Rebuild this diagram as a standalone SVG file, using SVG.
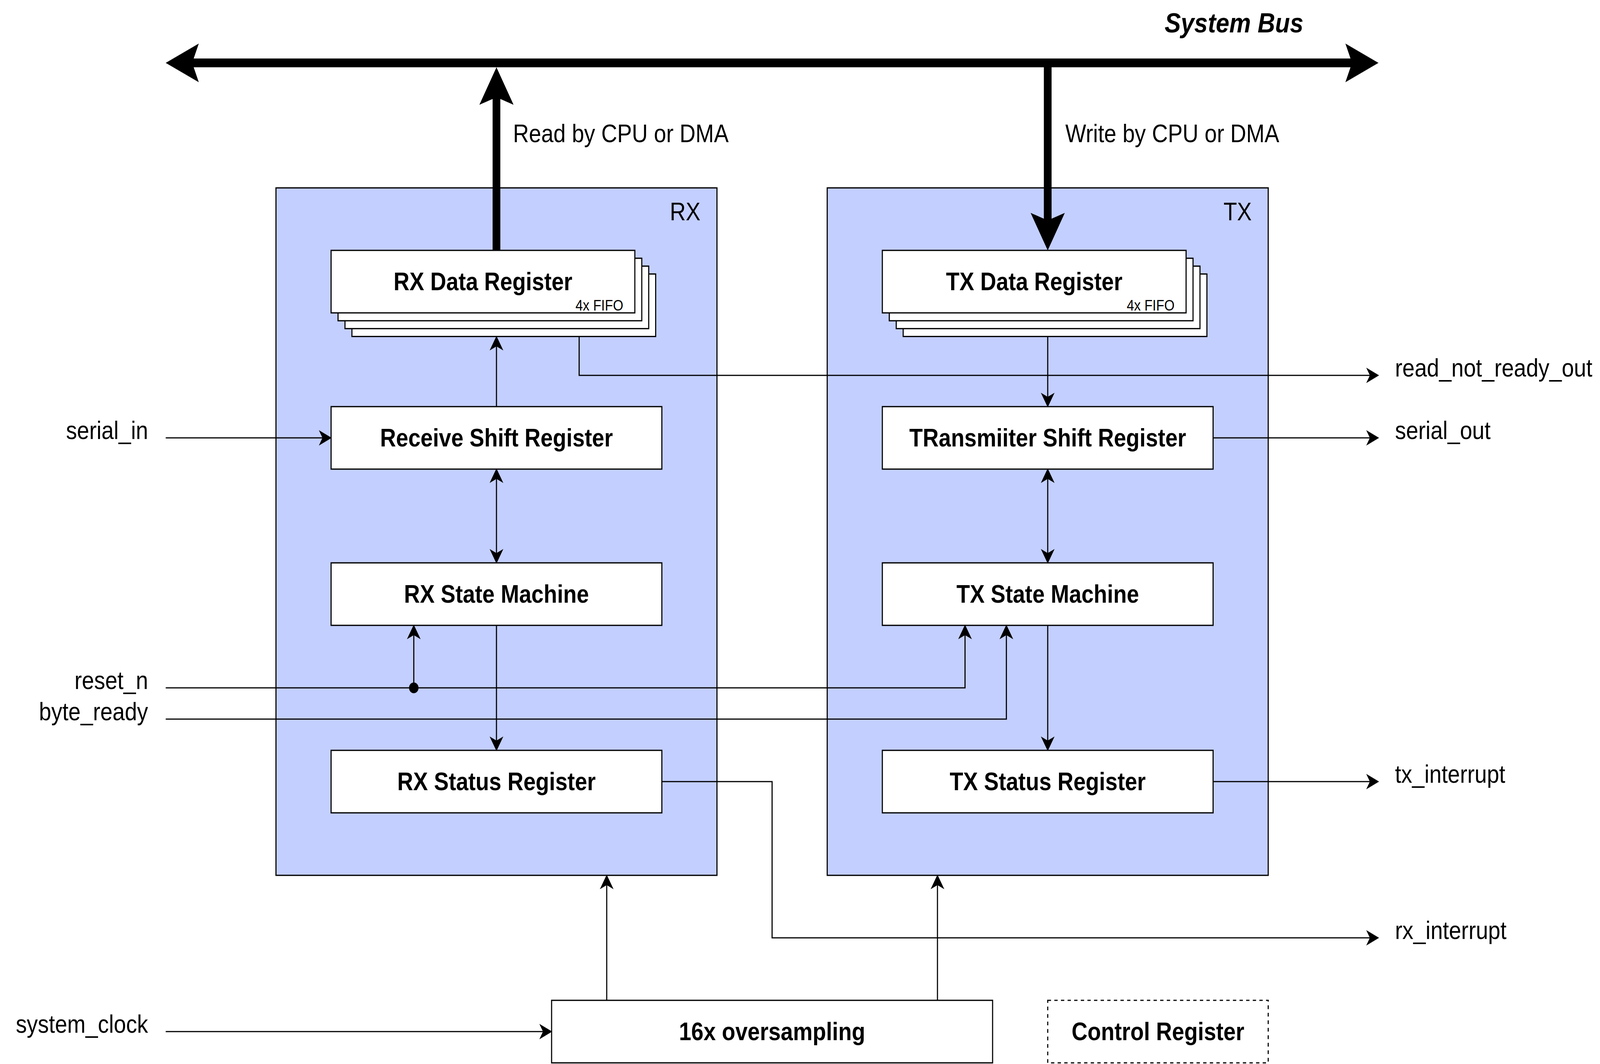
<svg xmlns="http://www.w3.org/2000/svg" width="4644" height="2724" viewBox="0 0 4644 2724" preserveAspectRatio="none">
  <defs>
    <style>
      svg:root { width: 100vw; height: 100vh; display: block; }
      .cont { fill: #C3CFFF; stroke: #000; stroke-width: 1; }
      .box { fill: #FFFFFF; stroke: #000; stroke-width: 1; }
      .dash { fill: #FFFFFF; stroke: #000; stroke-width: 1; stroke-dasharray: 3 3; }
      .t { font-family: "Liberation Sans", Arial, Helvetica, sans-serif; font-size: 20px; fill: #000; }
      .b { font-weight: bold; text-anchor: middle; }
      .small { font-family: "Liberation Sans", Arial, Helvetica, sans-serif; font-size: 12px; fill: #000; text-anchor: end; }
      .thin { fill: none; stroke: #000; stroke-width: 1; }
      .thick { fill: none; stroke: #000; stroke-width: 7; }
    </style>
    <marker id="arr" markerUnits="userSpaceOnUse" orient="auto-start-reverse" markerWidth="12" markerHeight="12" refX="0" refY="0" viewBox="-3.5 -6 12 12" overflow="visible">
      <path d="M7.5,0 L-3,-5.6 L0,0 L-3,5.6 Z" fill="#000" stroke="#000" stroke-width="0.5" stroke-linejoin="miter"/>
    </marker>
    <marker id="big" markerUnits="userSpaceOnUse" orient="auto-start-reverse" markerWidth="32" markerHeight="32" refX="0" refY="0" viewBox="-7 -16 32 32" overflow="visible">
      <path d="M24,0 L-6,-15.5 L0,0 L-6,15.5 Z" fill="#000"/>
    </marker>
  </defs>
  <rect x="0" y="0" width="4644" height="2724" fill="#FFFFFF"/>
  <g transform="translate(1,1) scale(3.2)">
    <g id="rx-block">
      <rect class="cont" x="250" y="150" width="400" height="550"/>
      <text class="t" x="635" y="176" text-anchor="end">RX</text>
    </g>
    <g id="tx-block">
      <rect class="cont" x="750" y="150" width="400" height="550"/>
      <text class="t" x="1135" y="176" text-anchor="end">TX</text>
    </g>
    <g id="rx-data-register">
      <rect class="box" x="318.9" y="218.9" width="275.5" height="50"/>
      <rect class="box" x="312.6" y="212.6" width="275.5" height="50"/>
      <rect class="box" x="306.3" y="206.3" width="275.5" height="50"/>
      <rect class="box" x="300" y="200" width="275.5" height="50"/>
      <text class="t b" x="437.75" y="232">RX Data Register</text>
      <text class="small" x="565" y="248">4x FIFO</text>
    </g>
    <g id="tx-data-register">
      <rect class="box" x="818.9" y="218.9" width="275.5" height="50"/>
      <rect class="box" x="812.6" y="212.6" width="275.5" height="50"/>
      <rect class="box" x="806.3" y="206.3" width="275.5" height="50"/>
      <rect class="box" x="800" y="200" width="275.5" height="50"/>
      <text class="t b" x="937.75" y="232">TX Data Register</text>
      <text class="small" x="1065" y="248">4x FIFO</text>
    </g>
    <g id="receive-shift-register">
      <rect class="box" x="300" y="325" width="300" height="50"/>
      <text class="t b" x="450" y="357">Receive Shift Register</text>
    </g>
    <g id="rx-state-machine">
      <rect class="box" x="300" y="450" width="300" height="50"/>
      <text class="t b" x="450" y="482">RX State Machine</text>
    </g>
    <g id="rx-status-register">
      <rect class="box" x="300" y="600" width="300" height="50"/>
      <text class="t b" x="450" y="632">RX Status Register</text>
    </g>
    <g id="transmitter-shift-register">
      <rect class="box" x="800" y="325" width="300" height="50"/>
      <text class="t b" x="950" y="357">TRansmiiter Shift Register</text>
    </g>
    <g id="tx-state-machine">
      <rect class="box" x="800" y="450" width="300" height="50"/>
      <text class="t b" x="950" y="482">TX State Machine</text>
    </g>
    <g id="tx-status-register">
      <rect class="box" x="800" y="600" width="300" height="50"/>
      <text class="t b" x="950" y="632">TX Status Register</text>
    </g>
    <g id="oversampling">
      <rect class="box" x="500" y="800" width="400" height="50"/>
      <text class="t b" x="700" y="832">16x oversampling</text>
    </g>
    <g id="control-register">
      <rect class="dash" x="950" y="800" width="200" height="50"/>
      <text class="t b" x="1050" y="832">Control Register</text>
    </g>

    <g id="connectors">
      <path class="thick" d="M174,50 H1226" marker-start="url(#big)" marker-end="url(#big)"/>
      <path class="thick" d="M450,200 V77.5" marker-end="url(#big)"/>
      <path class="thick" d="M950,50 V176" marker-end="url(#big)"/>
      <path class="thin" d="M450,325 V276.5" marker-end="url(#arr)"/>
      <path class="thin" d="M450,382.5 V442.5" marker-start="url(#arr)" marker-end="url(#arr)"/>
      <path class="thin" d="M950,269 V317.5" marker-end="url(#arr)"/>
      <path class="thin" d="M950,382.5 V442.5" marker-start="url(#arr)" marker-end="url(#arr)"/>
      <path class="thin" d="M450,500 V592.5" marker-end="url(#arr)"/>
      <path class="thin" d="M950,500 V592.5" marker-end="url(#arr)"/>
      <path class="thin" d="M150,350 H292.5" marker-end="url(#arr)"/>
      <path class="thin" d="M1100,350 H1242.5" marker-end="url(#arr)"/>
      <path class="thin" d="M1100,625 H1242.5" marker-end="url(#arr)"/>
      <path class="thin" d="M525,269 V300 H1242.5" marker-end="url(#arr)"/>
      <path class="thin" d="M600,625 H700 V750 H1242.5" marker-end="url(#arr)"/>
      <path class="thin" d="M150,550 H875 V507.5" marker-end="url(#arr)"/>
      <path class="thin" d="M375,550 V507.5" marker-end="url(#arr)"/>
      <circle cx="375" cy="550" r="4.3" fill="#000"/>
      <path class="thin" d="M150,575 H912.5 V507.5" marker-end="url(#arr)"/>
      <path class="thin" d="M150,825 H492.5" marker-end="url(#arr)"/>
      <path class="thin" d="M550,800 V707.5" marker-end="url(#arr)"/>
      <path class="thin" d="M850,800 V707.5" marker-end="url(#arr)"/>
    </g>

    <g id="label-system-bus">
      <text class="t" x="1119" y="25.6" font-weight="bold" font-style="italic" text-anchor="middle" style="font-size:22px">System Bus</text>
    </g>
    <g id="label-read">
      <text class="t" x="465" y="113.5">Read by CPU or DMA</text>
    </g>
    <g id="label-write">
      <text class="t" x="966" y="113.5">Write by CPU or DMA</text>
    </g>
    <g id="label-serial-in"><text class="t" x="134" y="351" text-anchor="end">serial_in</text></g>
    <g id="label-reset-n"><text class="t" x="134" y="551" text-anchor="end">reset_n</text></g>
    <g id="label-byte-ready"><text class="t" x="134" y="576" text-anchor="end">byte_ready</text></g>
    <g id="label-system-clock"><text class="t" x="134" y="826" text-anchor="end">system_clock</text></g>
    <g id="label-read-not-ready-out"><text class="t" x="1265" y="301">read_not_ready_out</text></g>
    <g id="label-serial-out"><text class="t" x="1265" y="351">serial_out</text></g>
    <g id="label-tx-interrupt"><text class="t" x="1265" y="626">tx_interrupt</text></g>
    <g id="label-rx-interrupt"><text class="t" x="1265" y="751">rx_interrupt</text></g>
  </g>
</svg>
